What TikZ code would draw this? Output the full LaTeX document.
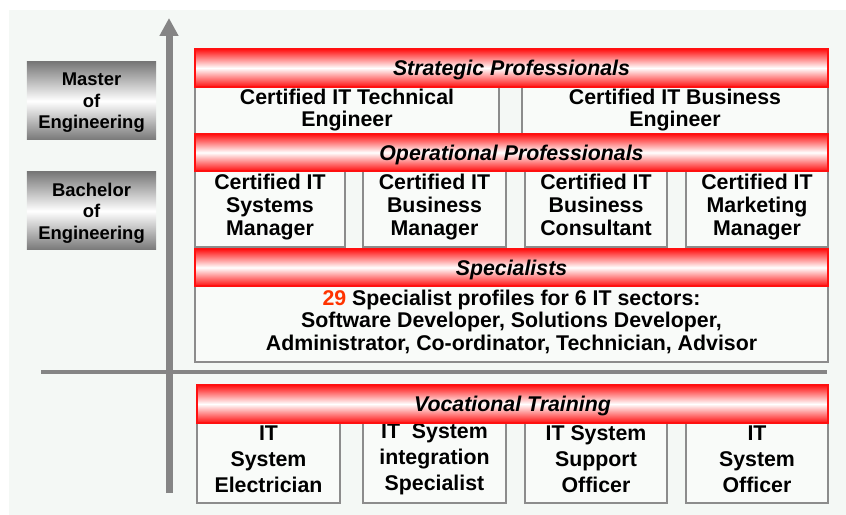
\documentclass[tikz,border=0pt]{standalone}
\usepackage{fontspec}
\setmainfont{Liberation Sans}
\usepackage{xcolor}
\definecolor{White}{HTML}{FFFFFF}
\definecolor{Paper}{HTML}{F4F8F5}
\definecolor{BoxFill}{HTML}{F9FBF9}
\definecolor{Border}{HTML}{8C8C8C}
\definecolor{Axis}{HTML}{858585}
\definecolor{Red}{HTML}{FF1010}
\definecolor{Count}{HTML}{FF3300}
\definecolor{DarkGray}{HTML}{787878}
\usetikzlibrary{arrows.meta}
\tikzset{
  every picture/.style={x=1bp, y=-1bp, font={\fontsize{21.4}{23}\selectfont\bfseries}},
  levelbar/.style={draw=Red, line width=1.5bp, top color=Red, bottom color=Red, middle color=White,
    minimum width=633bp, minimum height=38bp, inner sep=0pt, text depth=0pt,
    font={\fontsize{21.4}{23}\selectfont\bfseries\itshape}},
  rolebox/.style={draw=Border, line width=2.5bp, fill=BoxFill, align=center, inner sep=0pt},
  degreebox/.style={top color=DarkGray, bottom color=DarkGray, middle color=White,
    minimum width=129bp, minimum height=78bp, align=center, inner sep=0pt, text depth=-1bp,
    font={\fontsize{18.5}{21.5}\selectfont\bfseries}}}

\begin{document}
\begin{tikzpicture}
    \useasboundingbox (0,0) rectangle (846,515);
    \fill[Paper] (9,10) rectangle (846,515);

    \coordinate (axisfoot) at (169,493);
    \coordinate (axistip) at (169,18);
    \coordinate (lineleft) at (41,372);
    \coordinate (lineright) at (827,372);
    \draw[Axis, line width=4bp] (lineleft) -- (lineright);
    \draw[Axis, line width=7bp, -{Triangle[length=18bp, width=18bp]}] (axisfoot) -- (axistip);

    \node[degreebox] (master) at (91.5,101) {Master\\of\\Engineering};
    \node[degreebox] (bachelor) at (91.5,211) {Bachelor\\of\\Engineering};

    \node[rolebox, minimum width=304bp, minimum height=55bp] (technical) at (347,110) {Certified IT Technical\\Engineer};
    \node[rolebox, minimum width=306bp, minimum height=55bp] (business) at (675,110) {Certified IT Business\\Engineer};

    \foreach \cx/\w/\txt [count=\i] in {270/150/{Certified IT\\Systems\\Manager}, 434.5/143/{Certified IT\\Business\\Manager},
        596/142/{Certified IT\\Business\\Consultant}, 757/142/{Certified IT\\Marketing\\Manager}} {
      \node[rolebox, minimum width=\w bp, minimum height=80bp, text depth=4.5bp] (operational-\i) at (\cx,207) {\txt};
    }

    \node[rolebox, minimum width=633bp, minimum height=82bp, text depth=1.5bp] (profiles) at (511.5,321)
      {{\color{Count}29} Specialist profiles for 6 IT sectors:\\Software Developer, Solutions Developer,\\Administrator, Co-ordinator, Technician, Advisor};

    \foreach \cx/\w/\txt [count=\i] in {268.5/143/{IT\\System\\Electrician}, 434.5/143/{IT\ \ System\\integration\\Specialist},
        596/142/{IT System\\Support\\Officer}, 757/142/{IT\\System\\Officer}} {
      \node[rolebox, minimum width=\w bp, minimum height=88bp, font={\fontsize{21.4}{26}\selectfont\bfseries}] (vocational-\i) at (\cx,459) {\txt};
    }

    \node[levelbar] (strategic) at (511.5,68) {Strategic Professionals};
    \node[levelbar, minimum height=37bp] (operational) at (511.5,152.5) {Operational Professionals};
    \node[levelbar, minimum height=37bp] (specialists) at (511.5,267.5) {Specialists};
    \node[levelbar, minimum width=631bp] (vocational) at (512.5,404) {Vocational Training};
  \end{tikzpicture}
\end{document}
